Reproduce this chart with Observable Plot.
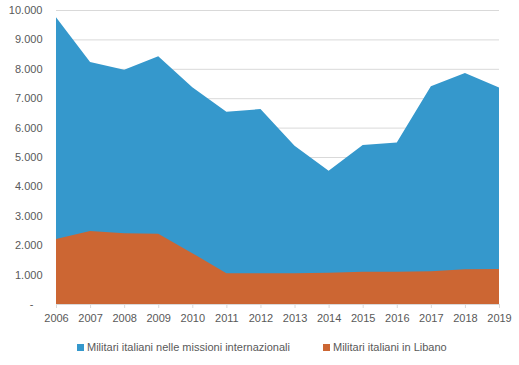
<!DOCTYPE html>
<html>
<head>
<meta charset="utf-8">
<script src="https://cdn.jsdelivr.net/npm/d3@7"></script>
<script src="https://cdn.jsdelivr.net/npm/@observablehq/plot@0.6"></script>
<style>
  html, body { margin: 0; padding: 0; background: #fff; }
  #wrap { position: relative; width: 519px; height: 365px; font-family: "Liberation Sans", Arial, sans-serif; }
  .leg { position: absolute; top: 340px; font-size: 11px; color: #595959; white-space: nowrap; line-height: 14px; }
  .sw { display: inline-block; width: 7px; height: 7px; margin-right: 3px; vertical-align: 0px; }
</style>
</head>
<body>
<div id="wrap">
  <div id="chart"></div>
  <div class="leg" style="left:77px"><span class="sw" style="background:#3598cc"></span>Militari italiani nelle missioni internazionali</div>
  <div class="leg" style="left:323px"><span class="sw" style="background:#cc6633"></span>Militari italiani in Libano</div>
</div>
<script>
const years = [2006, 2007, 2008, 2009, 2010, 2011, 2012, 2013, 2014, 2015, 2016, 2017, 2018, 2019];
const missioni = [9750, 8230, 7970, 8430, 7370, 6540, 6630, 5380, 4530, 5410, 5490, 7410, 7860, 7360];
const libano = [2210, 2480, 2410, 2390, 1730, 1050, 1050, 1050, 1060, 1100, 1100, 1110, 1180, 1190];
const yTicks = [0, 1000, 2000, 3000, 4000, 5000, 6000, 7000, 8000, 9000, 10000];

const rows = years.map((y, i) => ({year: y, missioni: missioni[i], libano: libano[i]}));
const fmt = v => v === 0 ? "-\u00a0\u00a0\u00a0" : d3.format(",")(v).replace(/,/g, ".");

const chart = Plot.plot({
  width: 519,
  height: 332,
  marginTop: 10,
  marginBottom: 28,
  marginLeft: 56,
  marginRight: 20,
  style: {fontFamily: "Liberation Sans, Arial, sans-serif", fontSize: "11px", color: "#595959", background: "#fff"},
  x: {domain: [2006, 2019]},
  y: {domain: [0, 10000]},
  marks: [
    Plot.ruleY(yTicks.filter(d => d > 0), {stroke: "#d9d9d9", strokeWidth: 1}),
    Plot.areaY(rows, {x: "year", y: "missioni", fill: "#3598cc"}),
    Plot.areaY(rows, {x: "year", y: "libano", fill: "#cc6633"}),
    Plot.ruleY([0], {stroke: "#d9d9d9", strokeWidth: 1}),
    Plot.axisY({ticks: yTicks, tickFormat: fmt, tickSize: 0, tickPadding: 14, label: null, fill: "#595959"}),
    Plot.axisX({ticks: years, tickFormat: d => String(d), tickSize: 4, tickPadding: 6, stroke: "#d9d9d9", label: null, fill: "#595959"})
  ]
});
document.getElementById("chart").appendChild(chart);
</script>
</body>
</html>
